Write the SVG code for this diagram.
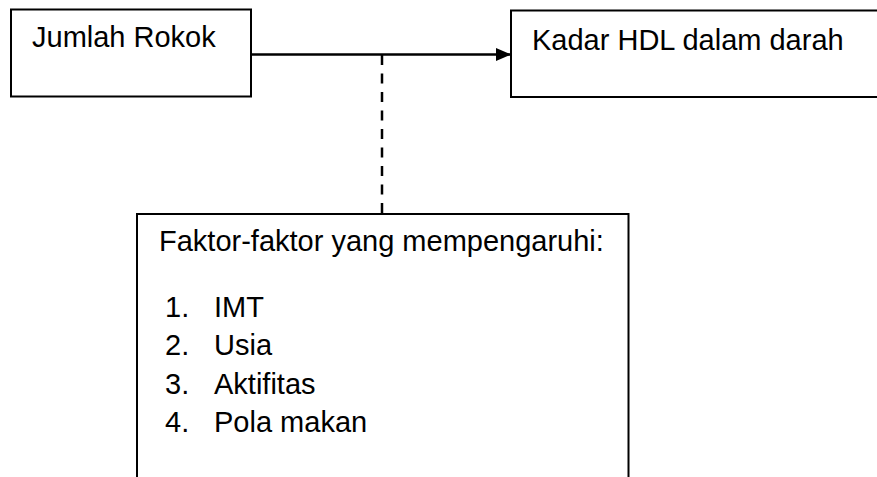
<svg xmlns="http://www.w3.org/2000/svg" width="877" height="477" viewBox="0 0 877 477">
<style>
.box{fill:#fff;stroke:#000;stroke-width:2}
.t{font-family:"Liberation Sans",Arial,sans-serif;font-size:29px;fill:#000}
.conn{stroke:#000;stroke-width:2.5;fill:none}
.dash{stroke:#000;stroke-width:2.5;fill:none;stroke-dasharray:10 8.5}
</style>
<defs>
<marker id="arr" viewBox="0 0 15 13" refX="15" refY="6.5" markerWidth="15" markerHeight="13" markerUnits="userSpaceOnUse" orient="auto">
<path d="M0,0 L15,6.5 L0,13 z" fill="#000"/>
</marker>
</defs>
<rect width="877" height="477" fill="#fff"/>
<g id="connectors">
<line class="conn" x1="251" y1="54.5" x2="511" y2="54.5" marker-end="url(#arr)"/>
<line class="dash" x1="382" y1="55" x2="382" y2="214"/>
</g>
<g id="node-jumlah">
<rect class="box" x="11" y="9.5" width="240" height="87"/>
<text class="t" x="32" y="47">Jumlah Rokok</text>
</g>
<g id="node-hdl">
<rect class="box" x="511" y="10.5" width="380" height="86.5"/>
<text class="t" x="532" y="50">Kadar HDL dalam darah</text>
</g>
<g id="node-faktor">
<rect class="box" x="137" y="214" width="491.5" height="280"/>
<text class="t" x="159" y="250.5">Faktor-faktor yang mempengaruhi:</text>
<text class="t" x="165" y="316.5">1.</text>
<text class="t" x="214" y="316.5">IMT</text>
<text class="t" x="165" y="355">2.</text>
<text class="t" x="214" y="355">Usia</text>
<text class="t" x="165" y="393.5">3.</text>
<text class="t" x="214" y="393.5">Aktifitas</text>
<text class="t" x="165" y="432">4.</text>
<text class="t" x="214" y="432">Pola makan</text>
</g>
</svg>
